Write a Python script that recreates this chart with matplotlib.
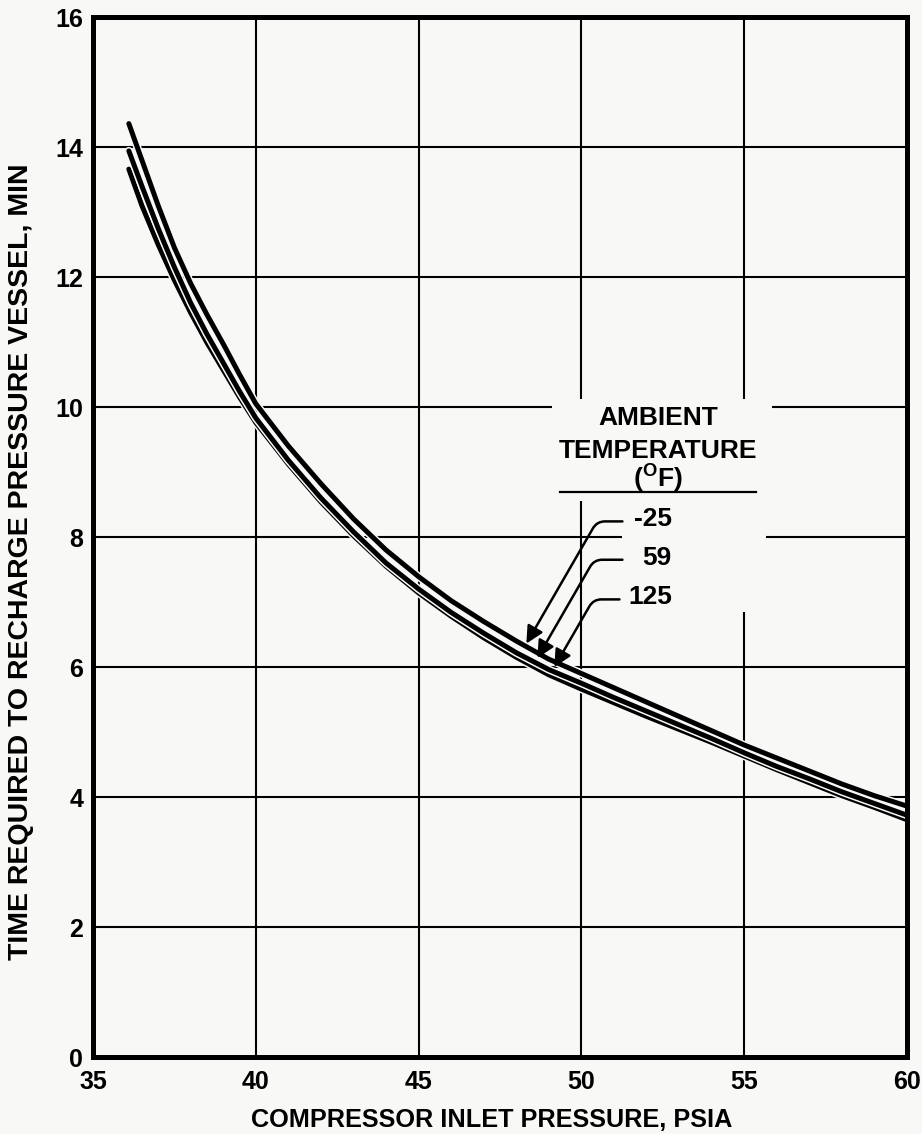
'''
Recharge time of the pressure vessel vs compressor inlet pressure,
for three ambient temperatures.
'''

import matplotlib
matplotlib.use('Agg')
import matplotlib.pyplot as plt
import matplotlib.patheffects as pe
from matplotlib.patches import Rectangle

# fonts: bold Arial-like everywhere
plt.rcParams['font.family'] = ['Liberation Sans', 'DejaVu Sans']
plt.rcParams['font.weight'] = 'bold'
plt.rcParams['axes.labelweight'] = 'bold'
plt.rcParams['mathtext.fontset'] = 'custom'
plt.rcParams['mathtext.rm'] = 'Liberation Sans:bold'
plt.rcParams['mathtext.bf'] = 'Liberation Sans:bold'
plt.rcParams['mathtext.default'] = 'bf'

# ---- data ----
pressure = [36.1, 36.5, 37, 37.5, 38, 38.5, 39, 39.5, 40, 41, 42, 43, 44, 45,
            46, 47, 48, 49, 50, 51, 52, 53, 54, 55, 56, 57, 58, 59, 60]
time_m25 = [14.36, 13.8, 13.1, 12.45, 11.9, 11.42, 10.97, 10.5, 10.05, 9.4,
            8.82, 8.28, 7.8, 7.39, 7.02, 6.7, 6.4, 6.12, 5.9, 5.68, 5.46,
            5.24, 5.02, 4.8, 4.6, 4.4, 4.2, 4.02, 3.86]
time_59 = [13.94, 13.4, 12.75, 12.15, 11.6, 11.12, 10.68, 10.24, 9.83, 9.18,
           8.6, 8.08, 7.6, 7.2, 6.84, 6.52, 6.22, 5.96, 5.75, 5.53, 5.32,
           5.11, 4.9, 4.68, 4.47, 4.28, 4.08, 3.9, 3.72]
time_125 = [13.66, 13.1, 12.5, 11.95, 11.45, 10.99, 10.57, 10.15, 9.76, 9.12,
            8.54, 8.02, 7.55, 7.14, 6.78, 6.45, 6.15, 5.88, 5.66, 5.45, 5.24,
            5.04, 4.84, 4.63, 4.42, 4.22, 4.02, 3.84, 3.65]

temp_labels = ['-25', '59', '125']
x_ticks = [35, 40, 45, 50, 55, 60]
y_ticks = [0, 2, 4, 6, 8, 10, 12, 14, 16]

paper = '#f8f8f6'

fig = plt.figure(figsize=(9.22, 11.34), dpi=100, facecolor=paper)
ax = fig.add_axes([0.1009, 0.0679, 0.8828, 0.9171], facecolor=paper)

ax.set_xlim(35, 60)
ax.set_ylim(0, 16)
ax.set_xticks(x_ticks)
ax.set_yticks(y_ticks)
ax.tick_params(length=0, labelsize=18, pad=9)
ax.tick_params(axis='y', pad=7)
ax.grid(True, color='black', lw=1.5, zorder=1)
ax.set_axisbelow(True)
for sp in ax.spines.values():
    sp.set_linewidth(3.6)
    sp.set_zorder(5)

# the three curves, black with a thin white edge so they stay apart
halo = [pe.Stroke(linewidth=5.8, foreground=paper), pe.Normal()]
for series in [time_125, time_59, time_m25]:
    ax.plot(pressure, series, color='black', lw=3.6, solid_capstyle='round',
            path_effects=halo, zorder=4, clip_on=True)

# blank out the grid behind the legend block
ax.add_patch(Rectangle((49.11, 8.55), 6.75, 1.57, facecolor=paper,
                       edgecolor='none', zorder=2))
ax.add_patch(Rectangle((51.26, 6.84), 4.41, 1.71, facecolor=paper,
                       edgecolor='none', zorder=2))

ax.text(52.35, 9.83, 'AMBIENT', ha='center', va='center', fontsize=19, zorder=3)
ax.text(52.35, 9.33, 'TEMPERATURE', ha='center', va='center', fontsize=19, zorder=3)
ax.text(52.35, 8.9, '($^{O}$F)', ha='center', va='center', fontsize=19, zorder=3)
ax.plot([49.33, 55.37], [8.7, 8.7], color='black', lw=1.6, zorder=3)

# temperature labels with leader arrows
label_y = [8.27, 7.68, 7.08]
start_x = [51.26, 51.26, 51.17]
start_y = [8.24, 7.65, 7.04]
tip_x = [48.31, 48.65, 49.17]
tip_y = [6.36, 6.14, 6.0]
for i in range(3):
    ax.text(52.78, label_y[i], temp_labels[i], ha='right', va='center',
            fontsize=19, zorder=3)
    ax.annotate('', xy=(tip_x[i], tip_y[i]), xytext=(start_x[i], start_y[i]),
                arrowprops=dict(arrowstyle='-|>', color='black', lw=1.8,
                                mutation_scale=26, shrinkA=0, shrinkB=0,
                                connectionstyle='angle,angleA=0,angleB=60,rad=8'),
                zorder=6)

ax.set_xlabel('COMPRESSOR INLET PRESSURE, PSIA', fontsize=18.2)
ax.set_ylabel('TIME REQUIRED TO RECHARGE PRESSURE VESSEL, MIN', fontsize=20.5)
ax.xaxis.set_label_coords(0.49, -0.049)
ax.yaxis.set_label_coords(-0.073, 0.476)

fig.savefig('out.png', dpi=100, facecolor=paper)
